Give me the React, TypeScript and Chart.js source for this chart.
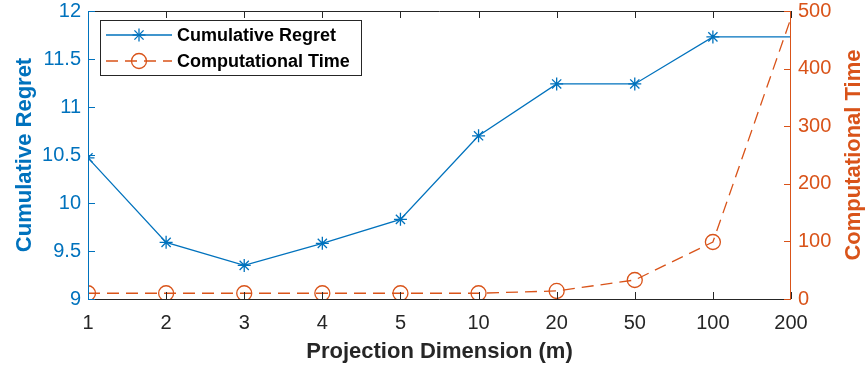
import React, { useEffect, useRef } from 'react';
import { Chart, registerables } from 'chart.js';

Chart.register(...registerables);

const xLabels = ['1', '2', '3', '4', '5', '10', '20', '50', '100', '200'];
const regret = [10.47, 9.59, 9.35, 9.58, 9.83, 10.7, 11.24, 11.24, 11.73, 11.73];
const compTime = [10, 10, 10, 10, 10, 10, 14, 33, 99, 488];
const markerShown = [true, true, true, true, true, true, true, true, true, false];
const leftTicks = [9, 9.5, 10, 10.5, 11, 11.5, 12];
const rightTicks = [0, 100, 200, 300, 400, 500];
const seriesNames = ['Cumulative Regret', 'Computational Time'];
const xTitle = 'Projection Dimension (m)';
const leftTitle = 'Cumulative Regret';
const rightTitle = 'Computational Time';

const BLUE = '#0072BD';
const ORANGE = '#D95319';
const DARK = '#262626';
const FONT = "'Liberation Sans', Arial, Helvetica, sans-serif";

function seg(ctx: CanvasRenderingContext2D, x1: number, y1: number, x2: number, y2: number) {
  ctx.beginPath();
  ctx.moveTo(x1, y1);
  ctx.lineTo(x2, y2);
  ctx.stroke();
}

function drawStar(ctx: CanvasRenderingContext2D, x: number, y: number, r: number) {
  const d = r * Math.SQRT1_2;
  seg(ctx, x - r, y, x + r, y);
  seg(ctx, x, y - r, x, y + r);
  seg(ctx, x - d, y - d, x + d, y + d);
  seg(ctx, x - d, y + d, x + d, y - d);
}

const framePlugin = {
  id: 'matlabFrame',
  afterDatasetsDraw(chart: any) {
    const { ctx, chartArea, scales } = chart;
    const { left, right, top, bottom } = chartArea;
    const L = 7;
    ctx.save();
    ctx.lineWidth = 1;
    ctx.strokeStyle = DARK;
    scales.x.ticks.forEach((_t: any, i: number) => {
      const px = Math.round(scales.x.getPixelForTick(i)) + 0.5;
      seg(ctx, px, bottom, px, bottom - L);
      seg(ctx, px, top, px, top + L);
    });
    seg(ctx, left, Math.round(top) + 0.5, right, Math.round(top) + 0.5);
    seg(ctx, left, Math.round(bottom) + 0.5, right, Math.round(bottom) + 0.5);
    ctx.strokeStyle = BLUE;
    scales.y.ticks.forEach((t: any) => {
      const py = Math.round(scales.y.getPixelForValue(t.value)) + 0.5;
      seg(ctx, left, py, left + L, py);
    });
    seg(ctx, Math.round(left) + 0.5, top, Math.round(left) + 0.5, bottom);
    ctx.strokeStyle = ORANGE;
    scales.y1.ticks.forEach((t: any) => {
      const py = Math.round(scales.y1.getPixelForValue(t.value)) + 0.5;
      seg(ctx, right, py, right - L, py);
    });
    seg(ctx, Math.round(right) - 0.5, top, Math.round(right) - 0.5, bottom);
    ctx.translate(chart.width - 11, (top + bottom) / 2);
    ctx.rotate(-Math.PI / 2);
    ctx.fillStyle = ORANGE;
    ctx.font = `bold 22px ${FONT}`;
    ctx.textAlign = 'center';
    ctx.textBaseline = 'middle';
    ctx.fillText(rightTitle, 0, 0);
    ctx.restore();
  },
  afterDraw(chart: any) {
    const { ctx } = chart;
    const bx = 100.5, by = 20.5, bw = 261, bh = 55;
    ctx.save();
    ctx.fillStyle = '#ffffff';
    ctx.fillRect(bx, by, bw, bh);
    ctx.strokeStyle = DARK;
    ctx.lineWidth = 1;
    ctx.strokeRect(bx, by, bw, bh);
    const rows = [35, 61];
    chart.data.datasets.forEach((ds: any, i: number) => {
      const y = rows[i];
      ctx.strokeStyle = ds.borderColor;
      ctx.lineWidth = ds.borderWidth;
      ctx.setLineDash(ds.borderDash || []);
      seg(ctx, 106, y, 172, y);
      ctx.setLineDash([]);
      if (ds.pointStyle === 'star') {
        drawStar(ctx, 139, y, 6.5);
      } else {
        ctx.beginPath();
        ctx.arc(139, y, 7.5, 0, Math.PI * 2);
        ctx.stroke();
      }
      ctx.fillStyle = '#000000';
      ctx.font = `bold 18px ${FONT}`;
      ctx.textAlign = 'left';
      ctx.textBaseline = 'middle';
      ctx.fillText(ds.label, 177, y + 1);
    });
    ctx.restore();
  },
};

export default function App() {
  const ref = useRef<HTMLCanvasElement>(null);
  useEffect(() => {
    document.body.style.margin = '0';
    const canvas = ref.current;
    if (!canvas) return;
    const chart = new Chart(canvas, {
      type: 'line',
      data: {
        labels: xLabels,
        datasets: [
          {
            label: seriesNames[0],
            data: regret,
            yAxisID: 'y',
            borderColor: BLUE,
            backgroundColor: 'transparent',
            borderWidth: 1.3,
            pointStyle: 'star',
            pointRadius: markerShown.map((m) => (m ? 6.5 : 0)),
            pointBorderColor: BLUE,
            pointBorderWidth: 1.3,
            tension: 0,
            clip: 0,
          },
          {
            label: seriesNames[1],
            data: compTime,
            yAxisID: 'y1',
            borderColor: ORANGE,
            backgroundColor: 'transparent',
            borderWidth: 1.3,
            borderDash: [12, 7],
            pointStyle: 'circle',
            pointRadius: markerShown.map((m) => (m ? 7.5 : 0)),
            pointBorderColor: ORANGE,
            pointBackgroundColor: 'transparent',
            pointBorderWidth: 1.3,
            tension: 0,
            clip: 0,
          },
        ],
      },
      options: {
        animation: false,
        responsive: false,
        devicePixelRatio: 1,
        layout: { padding: { top: 11, left: 0, right: 0, bottom: 0 } },
        plugins: { legend: { display: false }, tooltip: { enabled: false } },
        scales: {
          x: {
            type: 'category',
            offset: false,
            grid: { display: false, drawTicks: false },
            border: { display: false },
            ticks: {
              color: DARK,
              font: { family: FONT, size: 20 },
              padding: 12,
              maxRotation: 0,
              autoSkip: false,
            },
            title: {
              display: true,
              text: xTitle,
              color: DARK,
              font: { family: FONT, size: 22, weight: 'bold' },
              padding: { top: 0, bottom: 4 },
            },
            afterFit: (s: any) => {
              s.height = 70;
              s.paddingLeft = 0;
              s.paddingRight = 0;
            },
          },
          y: {
            position: 'left',
            min: 9,
            max: 12,
            grid: { display: false, drawTicks: false },
            border: { display: false },
            afterBuildTicks: (s: any) => {
              s.ticks = leftTicks.map((v) => ({ value: v }));
            },
            ticks: {
              color: BLUE,
              font: { family: FONT, size: 20 },
              padding: 7,
              callback: (v: any) => String(v),
            },
            title: {
              display: true,
              text: leftTitle,
              color: BLUE,
              font: { family: FONT, size: 22, weight: 'bold' },
              padding: { top: 12, bottom: 0 },
            },
            afterFit: (s: any) => {
              s.width = 88;
              s.paddingTop = 0;
              s.paddingBottom = 0;
            },
          },
          y1: {
            position: 'right',
            min: 0,
            max: 500,
            grid: { display: false, drawTicks: false },
            border: { display: false },
            afterBuildTicks: (s: any) => {
              s.ticks = rightTicks.map((v) => ({ value: v }));
            },
            ticks: {
              color: ORANGE,
              font: { family: FONT, size: 20 },
              padding: 7,
              callback: (v: any) => String(v),
            },
            afterFit: (s: any) => {
              s.width = 74;
              s.paddingTop = 0;
              s.paddingBottom = 0;
            },
          },
        },
      },
      plugins: [framePlugin],
    });
    return () => chart.destroy();
  }, []);
  return (
    <div style={{ width: 865, height: 369 }}>
      <canvas ref={ref} width={865} height={369} />
    </div>
  );
}
